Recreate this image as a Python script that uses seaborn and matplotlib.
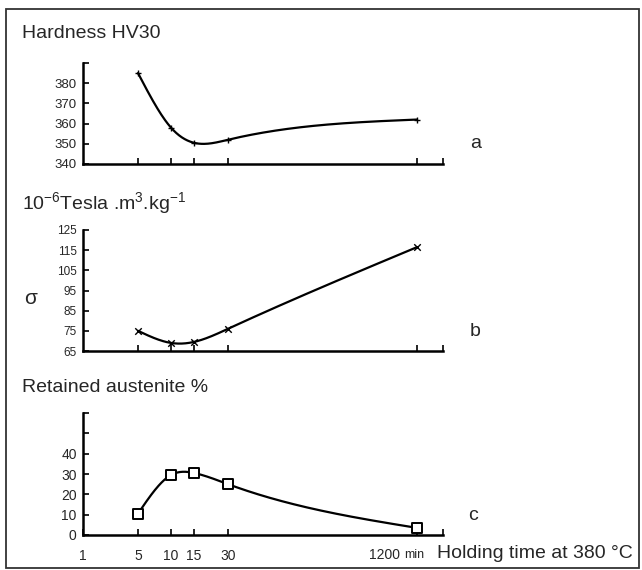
import numpy as np
import pandas as pd
import matplotlib
matplotlib.use("Agg")
import matplotlib.pyplot as plt
import seaborn as sns
from matplotlib.patches import Rectangle

# holding time (min) and the three measured curves
time_min = [5, 10, 15, 30, 1200]
hardness = [385, 358, 350.5, 352, 362]
sigma = [75, 69, 69.5, 76, 116.5]
austenite = [10.5, 29.5, 30.5, 25, 3.5]

x_ticks = [1, 5, 10, 15, 30]
x_ticklabels = ["1", "5", "10", "15", "30"]

# schematic (non-linear) time axis of the original drawing
knot_t = [1, 5, 10, 15, 30, 1200, 2400]
knot_u = [0, 55, 88, 111, 145, 334, 360]


def fwd(t):
    return np.interp(t, knot_t, knot_u)


def inv(u):
    return np.interp(u, knot_u, knot_t)


def smooth(t, y, n=300):
    # natural cubic spline in the axis (pixel-like) coordinate
    u = fwd(np.asarray(t, float))
    y = np.asarray(y, float)
    h = np.diff(u)
    m = len(u)
    A = np.zeros((m, m))
    r = np.zeros(m)
    A[0, 0] = A[-1, -1] = 1
    for i in range(1, m - 1):
        A[i, i - 1] = h[i - 1]
        A[i, i] = 2 * (h[i - 1] + h[i])
        A[i, i + 1] = h[i]
        r[i] = 6 * ((y[i + 1] - y[i]) / h[i] - (y[i] - y[i - 1]) / h[i - 1])
    M = np.linalg.solve(A, r)
    uu = np.linspace(u[0], u[-1], n)
    k = np.clip(np.searchsorted(u, uu) - 1, 0, m - 2)
    a = u[k + 1] - uu
    b = uu - u[k]
    hk = h[k]
    yy = (M[k] * a ** 3 / (6 * hk) + M[k + 1] * b ** 3 / (6 * hk)
          + (y[k] / hk - M[k] * hk / 6) * a + (y[k + 1] / hk - M[k + 1] * hk / 6) * b)
    return pd.DataFrame({"t": inv(uu), "v": yy})


sns.set_style("ticks")
plt.rcParams["font.family"] = ["Liberation Sans", "DejaVu Sans"]
plt.rcParams["mathtext.fontset"] = "custom"
plt.rcParams["mathtext.rm"] = "Liberation Sans"
plt.rcParams["mathtext.it"] = "Liberation Sans:italic"

W, H = 642, 570
fig = plt.figure(figsize=(W / 100, H / 100), dpi=100)
fig.patches.append(Rectangle((6 / W, 1 - 568 / H), 633 / W, 559 / H, transform=fig.transFigure,
                             fill=False, edgecolor="#333333", lw=1.3))

left, width = 83 / W, 360 / W
panels = [
    # top px, bottom px, values, ylim, ticks, labelled ticks, marker, label size
    (63, 164, hardness, (340, 390), [340, 350, 360, 370, 380, 390], [340, 350, 360, 370, 380], "+", 9.5),
    (230, 351, sigma, (65, 125), [65, 75, 85, 95, 105, 115, 125], [65, 75, 85, 95, 105, 115, 125], "x", 8.5),
    (413, 535, austenite, (0, 60), [0, 10, 20, 30, 40, 50, 60], [0, 10, 20, 30, 40], "s", 10),
]

axes = []
for top, bot, vals, ylim, yt, ylab, mk, fs in panels:
    ax = fig.add_axes([left, 1 - bot / H, width, (bot - top) / H])
    ax.set_xscale("function", functions=(fwd, inv))
    ax.set_xlim(1, 2400)
    ax.set_ylim(*ylim)
    curve = smooth(time_min, vals)
    sns.lineplot(data=curve, x="t", y="v", ax=ax, color="black", lw=1.6, sort=False)
    pts = pd.DataFrame({"t": time_min, "v": vals})
    if mk == "s":
        sns.scatterplot(data=pts, x="t", y="v", ax=ax, marker="s", s=55, facecolor="white",
                        edgecolor="black", linewidth=1.4, zorder=3)
    else:
        sns.scatterplot(data=pts, x="t", y="v", ax=ax, marker=mk, s=22, color="black",
                        linewidth=1.0, zorder=3)
    ax.set_yticks(yt)
    ax.set_yticklabels([str(v) if v in ylab else "" for v in yt])
    ax.set_xticks([5, 10, 15, 30, 1200, 2400])
    ax.set_xticklabels([])
    ax.set_xlabel("")
    ax.set_ylabel("")
    ax.tick_params(direction="in", length=4, width=1.2, color="black")
    ax.tick_params(axis="y", labelsize=fs, pad=4.5)
    for s in ["top", "right"]:
        ax.spines[s].set_visible(False)
    for s in ["left", "bottom"]:
        ax.spines[s].set_linewidth(1.8)
        ax.spines[s].set_color("black")
    ax.patch.set_alpha(0)
    axes.append(ax)

# time labels on the bottom panel
axc = axes[2]
axc.set_xticks([1, 5, 10, 15, 30, 1200, 2400], minor=False)
axc.set_xticklabels(x_ticklabels + ["", ""])
axc.tick_params(axis="x", labelsize=10, pad=10)

fig.text(400 / W, 1 - 555 / H, "1200", ha="right", va="center", fontsize=10)
fig.text(404 / W, 1 - 555 / H, "min", ha="left", va="center", fontsize=9)
fig.text(437 / W, 1 - 553 / H, "Holding time at 380 °C", ha="left", va="center", fontsize=14)

fig.text(22 / W, 1 - 33 / H, "Hardness HV30", ha="left", va="center", fontsize=14)
fig.text(22 / W, 1 - 203 / H, r"10$^{-6}$Tesla .m$^{3}$.kg$^{-1}$", ha="left", va="center", fontsize=14)
fig.text(22 / W, 1 - 387 / H, "Retained austenite %", ha="left", va="center", fontsize=14)
fig.text(24 / W, 1 - 298 / H, "σ", ha="left", va="center", fontsize=15)

fig.text(470 / W, 1 - 143 / H, "a", ha="left", va="center", fontsize=14)
fig.text(470 / W, 1 - 331 / H, "b", ha="left", va="center", fontsize=14)
fig.text(468 / W, 1 - 516 / H, "c", ha="left", va="center", fontsize=14)

fig.savefig("out.png", dpi=100)
